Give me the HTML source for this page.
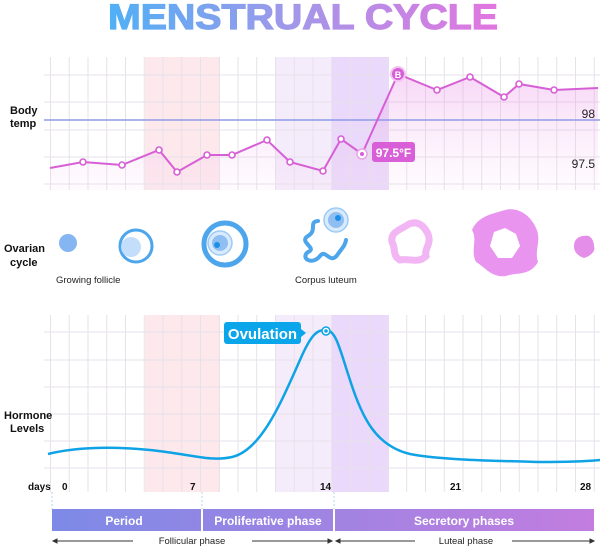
<!DOCTYPE html>
<html><head><meta charset="utf-8"><style>
html,body{margin:0;padding:0;background:#fff;}
svg{display:block;font-family:"Liberation Sans",Arial,sans-serif;}
</style></head><body>
<svg width="600" height="546" viewBox="0 0 600 546" xmlns="http://www.w3.org/2000/svg">
<defs>
<linearGradient id="tg" x1="108" x2="498" y1="0" y2="0" gradientUnits="userSpaceOnUse">
<stop offset="0" stop-color="#4fb0f6"/><stop offset="0.5" stop-color="#a696e8"/><stop offset="1" stop-color="#e276e0"/></linearGradient>
<linearGradient id="bg" x1="52" x2="594" y1="0" y2="0" gradientUnits="userSpaceOnUse">
<stop offset="0" stop-color="#7d8ae6"/><stop offset="1" stop-color="#c27ddf"/></linearGradient>
<linearGradient id="af" x1="0" x2="0" y1="0" y2="1"><stop offset="0" stop-color="#e98be6" stop-opacity="0.35"/><stop offset="1" stop-color="#f6d6f4" stop-opacity="0.1"/></linearGradient>
<pattern id="grid" x="50" y="0" width="18.75" height="546" patternUnits="userSpaceOnUse"><line x1="0.5" y1="0" x2="0.5" y2="546" stroke="#e6e1ea" stroke-width="1"/></pattern>
</defs>
<text x="108" y="29" font-size="35" font-weight="900" fill="url(#tg)" textLength="390" lengthAdjust="spacingAndGlyphs" stroke="url(#tg)" stroke-width="1.2">MENSTRUAL CYCLE</text>

<!-- top chart -->
<rect x="145" y="57" width="75" height="133" fill="#fde8ec"/>
<rect x="276" y="57" width="56" height="133" fill="#f5ecfb"/>
<rect x="332" y="57" width="57" height="133" fill="#ead9fa"/>
<rect x="44" y="57" width="556" height="133" fill="url(#grid)"/>
<g stroke="#e6e1ea" stroke-width="1">
<line x1="44" x2="600" y1="75" y2="75"/><line x1="44" x2="600" y1="102" y2="102"/>
<line x1="44" x2="600" y1="130" y2="130"/><line x1="44" x2="600" y1="157" y2="157"/><line x1="44" x2="600" y1="184" y2="184"/></g>
<polygon fill="url(#af)" points="50,190 50,168 83,162 122,165 159,150 177,172 207,155 232,155 267,140 290,162 323,171 341,139 362,154 398,74 437,90 470,77 504,97 519,84 554,90 598,88 598,190"/>
<line x1="44" x2="600" y1="120" y2="120" stroke="#8f9ae8" stroke-width="1.5"/>
<polyline fill="none" stroke="#d75fd6" stroke-width="2" points="50,168 83,162 122,165 159,150 177,172 207,155 232,155 267,140 290,162 323,171 341,139 362,154 398,74 437,90 470,77 504,97 519,84 554,90 598,88"/>
<g fill="#fff" stroke="#d75fd6" stroke-width="1.6">
<circle cx="83" cy="162" r="3"/><circle cx="122" cy="165" r="3"/><circle cx="159" cy="150" r="3"/><circle cx="177" cy="172" r="3"/><circle cx="207" cy="155" r="3"/><circle cx="232" cy="155" r="3"/><circle cx="267" cy="140" r="3"/><circle cx="290" cy="162" r="3"/><circle cx="323" cy="171" r="3"/><circle cx="341" cy="139" r="3"/><circle cx="437" cy="90" r="3"/><circle cx="470" cy="77" r="3"/><circle cx="504" cy="97" r="3"/><circle cx="519" cy="84" r="3"/><circle cx="554" cy="90" r="3"/></g>
<circle cx="362" cy="154" r="5" fill="#fff" stroke="#e8a6e6" stroke-width="1.5"/><circle cx="362" cy="154" r="2" fill="#d75fd6"/>
<circle cx="398" cy="74" r="7" fill="#d75fd6" stroke="#f3c4f1" stroke-width="2"/>
<text x="398" y="78" font-size="9" font-weight="bold" fill="#fff" text-anchor="middle">B</text>
<rect x="372" y="142" width="43" height="20" rx="3" fill="#d95fd8"/>
<text x="393.5" y="157" font-size="12" font-weight="bold" fill="#fff" text-anchor="middle">97.5°F</text>
<text x="595" y="118" font-size="12" fill="#222" text-anchor="end">98</text>
<text x="595" y="168" font-size="12" fill="#222" text-anchor="end">97.5</text>
<text x="10" y="114" font-size="11" font-weight="bold" fill="#111">Body</text>
<text x="10" y="127" font-size="11" font-weight="bold" fill="#111">temp</text>

<!-- ovarian -->
<text x="4" y="252" font-size="11" font-weight="bold" fill="#111">Ovarian</text>
<text x="10" y="266" font-size="11" font-weight="bold" fill="#111">cycle</text>
<circle cx="68" cy="243" r="9" fill="#85b6f1"/>
<circle cx="136" cy="246" r="16" fill="none" stroke="#4da5ec" stroke-width="3"/>
<circle cx="131" cy="247" r="10" fill="#c3defb"/>
<circle cx="225" cy="244" r="21" fill="none" stroke="#4da5ec" stroke-width="5"/>
<circle cx="220" cy="243" r="12" fill="#d9eafd" stroke="#9ecbf5" stroke-width="1.5"/>
<circle cx="220" cy="243" r="8" fill="#8fbff2"/>
<circle cx="217" cy="245" r="3" fill="#1e8fe8"/>
<circle cx="336" cy="220" r="12" fill="#d9eafd" stroke="#9ecbf5" stroke-width="1.5"/>
<circle cx="336" cy="220" r="8" fill="#8fbff2"/><circle cx="338" cy="218" r="3" fill="#1e8fe8"/>
<path d="M318,221 C308,222 318,230 308,236 C298,242 318,248 308,252 C300,258 312,266 320,256 C326,248 330,266 338,254 C342,248 345,246 346,240" fill="none" stroke="#4da5ec" stroke-width="4" stroke-linecap="round"/>
<path d="M409,224 C418,220 424,226 428,234 C432,244 424,248 426,256 C418,264 410,258 400,260 C392,256 396,248 392,242 C390,232 400,230 409,224 Z" fill="none" stroke="#f1b6f3" stroke-width="7"/>
<path d="M505,210 C520,206 532,218 536,228 C542,240 534,250 538,262 C530,276 518,272 506,276 C492,278 486,268 476,262 C470,250 478,240 472,230 C478,216 492,214 505,210 Z M505,228 L516,234 L520,246 L512,258 L498,258 L490,246 L494,232 Z" fill="#e995ef" fill-rule="evenodd"/>
<path d="M584,236 C590,234 594,240 594,246 C596,252 590,256 584,258 C578,256 574,252 574,246 C574,240 578,236 584,236 Z" fill="#e48ee9"/>
<text x="56" y="283" font-size="9.5" fill="#222">Growing follicle</text>
<text x="295" y="283" font-size="9.5" fill="#222">Corpus luteum</text>

<!-- hormone chart -->
<rect x="145" y="315" width="75" height="177" fill="#fde8ec"/>
<rect x="276" y="315" width="56" height="177" fill="#f5ecfb"/>
<rect x="332" y="315" width="57" height="177" fill="#ead9fa"/>
<rect x="44" y="315" width="556" height="177" fill="url(#grid)"/>
<g stroke="#e6e1ea" stroke-width="1">
<line x1="44" x2="600" y1="332" y2="332"/><line x1="44" x2="600" y1="360" y2="360"/><line x1="44" x2="600" y1="387" y2="387"/><line x1="44" x2="600" y1="414" y2="414"/><line x1="44" x2="600" y1="441" y2="441"/><line x1="44" x2="600" y1="468" y2="468"/></g>
<rect x="44" y="470" width="556" height="22" fill="#fff" opacity="0"/>
<path d="M48,454 C80,446 120,447 150,450 C190,454 210,462 232,457 C262,450 282,400 300,360 C312,332 318,330 326,330 C336,330 340,350 350,380 C362,418 376,446 410,454 C440,460 500,461 540,462 C570,462 590,461 600,460" fill="none" stroke="#0fa3e6" stroke-width="2.5"/>
<circle cx="326" cy="331" r="4" fill="#fff" stroke="#0fa3e6" stroke-width="1.5"/><circle cx="326" cy="331" r="1.8" fill="#0fa3e6"/>
<rect x="224" y="322" width="77" height="22" rx="3" fill="#0ba6ea"/>
<polygon points="301,329 306,333 301,337" fill="#0ba6ea"/>
<text x="262.5" y="339" font-size="15" font-weight="bold" fill="#fff" text-anchor="middle">Ovulation</text>
<text x="4" y="419" font-size="11" font-weight="bold" fill="#111">Hormone</text>
<text x="10" y="432" font-size="11" font-weight="bold" fill="#111">Levels</text>
<g font-size="10" font-weight="bold" fill="#111">
<text x="28" y="490">days</text><text x="62" y="490">0</text><text x="190" y="490">7</text><text x="320" y="490">14</text><text x="450" y="490">21</text><text x="580" y="490">28</text></g>
<g stroke="#a8d8e8" stroke-dasharray="2,2"><line x1="52" x2="52" y1="492" y2="509"/><line x1="202" x2="202" y1="492" y2="509"/><line x1="334" x2="334" y1="492" y2="509"/></g>

<rect x="52" y="509" width="542" height="22" fill="url(#bg)"/>
<line x1="202" x2="202" y1="509" y2="531" stroke="#fff" stroke-width="2"/>
<line x1="334" x2="334" y1="509" y2="531" stroke="#fff" stroke-width="2"/>
<g font-size="12" font-weight="bold" fill="#fff" text-anchor="middle">
<text x="124" y="525">Period</text><text x="268" y="525">Proliferative phase</text><text x="464" y="525">Secretory phases</text></g>
<g stroke="#333" stroke-width="1" fill="#333">
<line x1="55" x2="133" y1="541" y2="541"/><polygon points="53,541 57,539 57,543"/>
<line x1="252" x2="330" y1="541" y2="541"/><polygon points="332,541 328,539 328,543"/>
<line x1="338" x2="415" y1="541" y2="541"/><polygon points="336,541 340,539 340,543"/>
<line x1="512" x2="592" y1="541" y2="541"/><polygon points="594,541 590,539 590,543"/></g>
<text x="192" y="544" font-size="9.5" fill="#222" text-anchor="middle">Follicular phase</text>
<text x="466" y="544" font-size="9.5" fill="#222" text-anchor="middle">Luteal phase</text>
</svg>
</body></html>
